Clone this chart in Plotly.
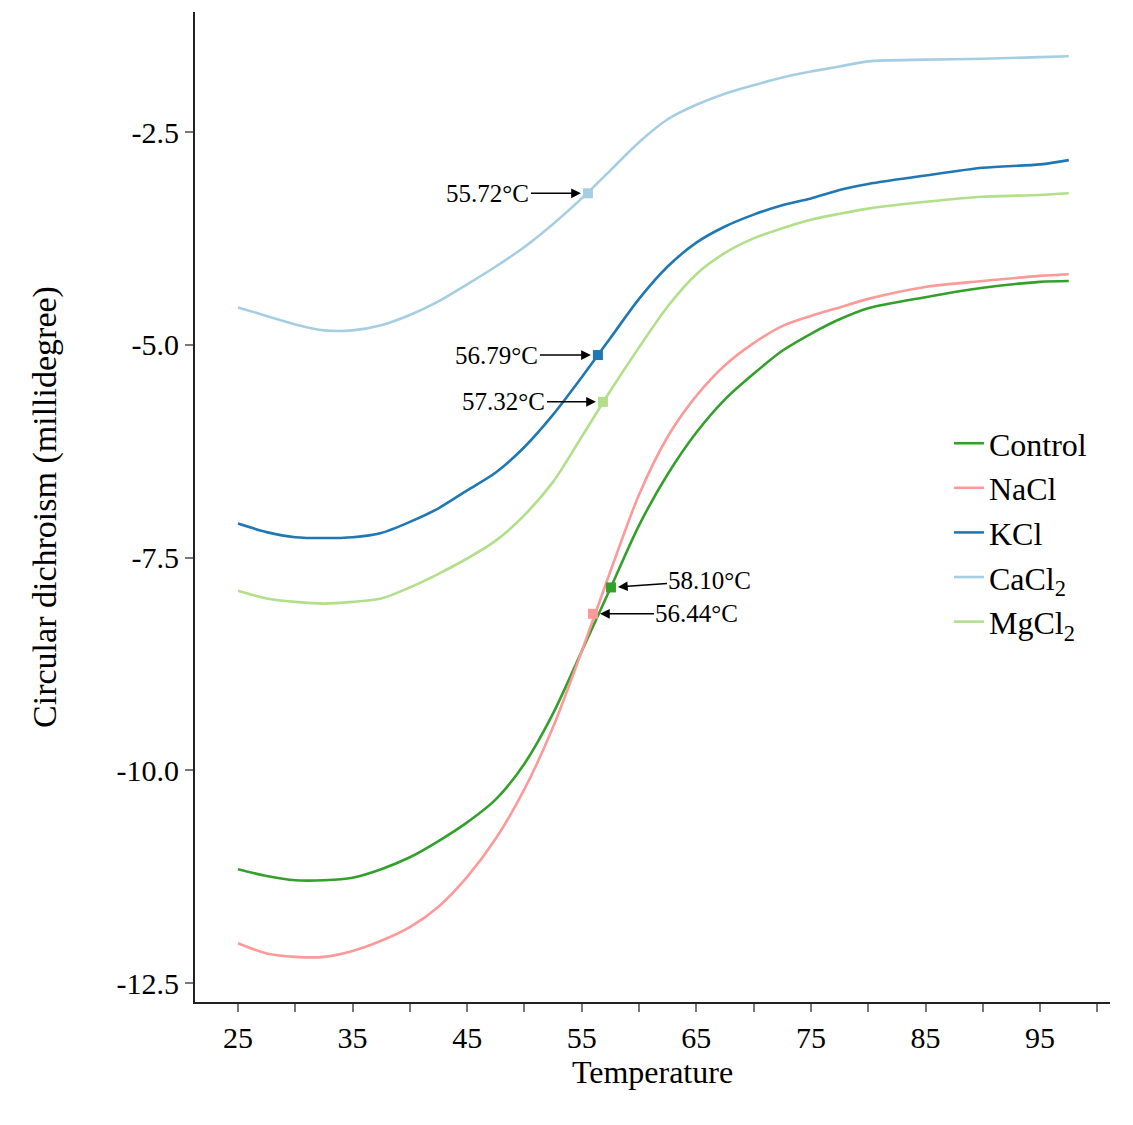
import plotly.graph_objects as go

temps = [25, 27.5, 30, 32.5, 35, 37.5, 40, 42.5, 45, 47.5, 50, 52.5, 55, 57.5,
         60, 62.5, 65, 67.5, 70, 72.5, 75, 77.5, 80, 85, 90, 95, 97.5]

control = [-11.16, -11.24, -11.29, -11.29, -11.26, -11.16, -11.02, -10.83, -10.61, -10.34,
           -9.92, -9.33, -8.60, -7.86, -7.12, -6.52, -6.03, -5.64, -5.34, -5.07,
           -4.87, -4.70, -4.57, -4.44, -4.33, -4.26, -4.25]
nacl = [-12.03, -12.15, -12.19, -12.19, -12.12, -12.00, -11.84, -11.60, -11.25, -10.80,
        -10.22, -9.49, -8.60, -7.66, -6.76, -6.08, -5.60, -5.24, -4.98, -4.78,
        -4.66, -4.56, -4.46, -4.32, -4.25, -4.19, -4.17]
kcl = [-7.10, -7.20, -7.26, -7.27, -7.26, -7.21, -7.08, -6.92, -6.71, -6.50,
       -6.20, -5.82, -5.38, -4.92, -4.46, -4.08, -3.80, -3.61, -3.47, -3.36,
       -3.28, -3.18, -3.11, -3.01, -2.92, -2.88, -2.83]
cacl2 = [-4.56, -4.66, -4.76, -4.83, -4.83, -4.77, -4.65, -4.49, -4.29, -4.08,
         -3.85, -3.58, -3.28, -2.95, -2.62, -2.35, -2.18, -2.05, -1.95, -1.86,
         -1.79, -1.73, -1.67, -1.65, -1.64, -1.62, -1.61]
mgcl2 = [-7.89, -7.98, -8.02, -8.04, -8.02, -7.98, -7.85, -7.69, -7.51, -7.30,
         -7.00, -6.61, -6.08, -5.54, -5.03, -4.55, -4.17, -3.92, -3.75, -3.63,
         -3.53, -3.46, -3.40, -3.32, -3.26, -3.24, -3.22]

series_names = ["Control", "NaCl", "KCl", "CaCl<sub>2</sub>", "MgCl<sub>2</sub>"]
series_values = [control, nacl, kcl, cacl2, mgcl2]
series_colors = ["#33a02c", "#fb9a99", "#1f78b4", "#a6cee3", "#b2df8a"]

# Tm markers (position) and their labels
tm_labels = ["58.10°C", "56.44°C", "56.79°C", "55.72°C", "57.32°C"]
tm_x = [57.55, 55.98, 56.41, 55.54, 56.85]
tm_y = [-7.85, -8.16, -5.12, -3.22, -5.67]
tm_ax = [99, 104, -101, -100, -99]
tm_ay = [-7, 0, 0, 0, 0]

x_ticks = [25, 35, 45, 55, 65, 75, 85, 95]
y_ticks = [-2.5, -5.0, -7.5, -10.0, -12.5]
y_ticktext = ["-2.5", "-5.0", "-7.5", "-10.0", "-12.5"]

FONT = "Liberation Serif, Times New Roman, serif"

fig = go.Figure()
for i, (name, vals, col) in enumerate(zip(series_names, series_values, series_colors)):
    fig.add_trace(go.Scatter(
        x=temps, y=vals, mode="lines", name=name,
        line=dict(color=col, width=2.6, shape="spline", smoothing=0.8),
        legendgroup=f"g{i}",
    ))
for i, col in enumerate(series_colors):
    fig.add_trace(go.Scatter(
        x=[tm_x[i]], y=[tm_y[i]], mode="markers", showlegend=False,
        marker=dict(color=col, size=10, symbol="square"),
        hoverinfo="skip",
    ))
    fig.add_annotation(
        x=tm_x[i], y=tm_y[i], xref="x", yref="y",
        ax=tm_ax[i], ay=tm_ay[i], axref="pixel", ayref="pixel",
        text=tm_labels[i], showarrow=True,
        arrowhead=2, arrowsize=1.3, arrowwidth=1.5, arrowcolor="black",
        standoff=7, font=dict(family=FONT, size=25, color="black"),
    )

fig.update_layout(
    width=1133, height=1125,
    margin=dict(l=195, r=23, t=12, b=123),
    paper_bgcolor="white", plot_bgcolor="white",
    font=dict(family=FONT, size=30, color="black"),
    legend=dict(x=0.824, y=0.592, xanchor="left", yanchor="top",
                font=dict(family=FONT, size=32, color="black"),
                tracegroupgap=0, bgcolor="rgba(0,0,0,0)"),
    xaxis=dict(range=[21.25, 101.1], tickvals=x_ticks, ticks="outside",
               ticklen=8, tickwidth=2, tickcolor="#777",
               minor=dict(dtick=5, tick0=0, ticks="outside", ticklen=8,
                          tickwidth=2, tickcolor="#777"),
               showline=True, linecolor="#222", linewidth=2,
               showgrid=False, zeroline=False,
               tickfont=dict(family=FONT, size=30),
               title=dict(text="Temperature", font=dict(family=FONT, size=32), standoff=8)),
    yaxis=dict(range=[-12.72, -1.09], tickvals=y_ticks, ticktext=y_ticktext,
               ticks="outside", ticklen=8, tickwidth=2, tickcolor="#777",
               showline=True, linecolor="#222", linewidth=2,
               showgrid=False, zeroline=False,
               tickfont=dict(family=FONT, size=30),
               title=dict(text="Circular dichroism (millidegree)",
                          font=dict(family=FONT, size=34), standoff=50)),
)

fig.write_html("out.html")
